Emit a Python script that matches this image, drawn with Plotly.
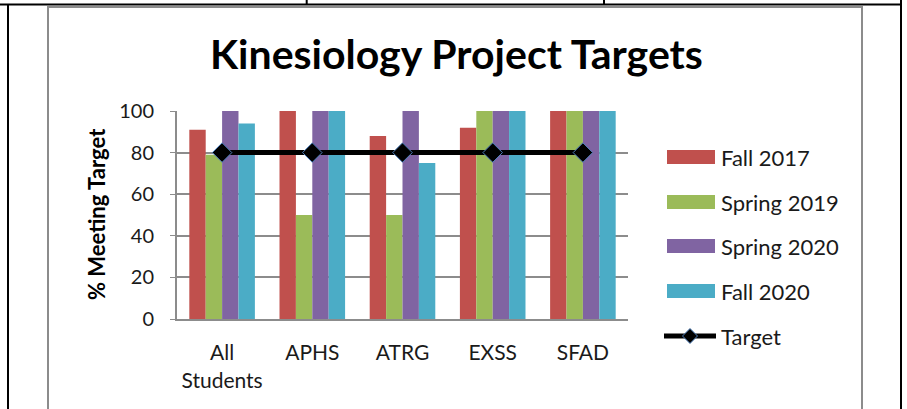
import plotly.graph_objects as go

categories = ['All<br>Students', 'APHS', 'ATRG', 'EXSS', 'SFAD']
series_names = ['Fall 2017', 'Spring 2019', 'Spring 2020', 'Fall 2020']
fall_2017 = [91, 100, 88, 92, 100]
spring_2019 = [79, 50, 50, 100, 100]
spring_2020 = [100, 100, 100, 100, 100]
fall_2020 = [94, 100, 75, 100, 100]
target = [80, 80, 80, 80, 80]

W, H = 907, 409
L, R, T, B = 177, 279, 111, 90
PW, PH = W - L - R, H - T - B


def px(x):
    return (x - L) / PW


def py(y):
    return (H - B - y) / PH


FONT = 'Lato'
TXT = '#1a1a1a'
colors = ['#C0504D', '#9BBB59', '#8064A2', '#4BACC6']

fig = go.Figure()
for name, vals, col in zip(series_names, [fall_2017, spring_2019, spring_2020, fall_2020], colors):
    fig.add_trace(go.Bar(
        x=categories, y=vals, name=name,
        marker=dict(color=col, line=dict(width=0)),
    ))

fig.add_trace(go.Scatter(
    x=categories, y=target, name='Target',
    mode='lines+markers',
    line=dict(color='black', width=5),
    marker=dict(symbol='diamond', size=15, color='black',
                line=dict(color='#4F81BD', width=1)),
))

# table borders (black) and chart frame (gray)
blk = dict(color='black', width=2)
fig.add_shape(type='line', xref='paper', yref='paper',
              x0=px(0), x1=px(902), y0=py(4.5), y1=py(4.5), line=blk)
fig.add_shape(type='line', xref='paper', yref='paper',
              x0=px(8), x1=px(8), y0=py(4.5), y1=py(420), line=blk)
fig.add_shape(type='line', xref='paper', yref='paper',
              x0=px(901), x1=px(901), y0=py(-5), y1=py(420), line=blk)
for xx in (306.7, 604):
    fig.add_shape(type='line', xref='paper', yref='paper',
                  x0=px(xx), x1=px(xx), y0=py(-5), y1=py(4.5), line=blk)
fig.add_shape(type='rect', xref='paper', yref='paper',
              x0=px(48), x1=px(862), y0=py(430), y1=py(7),
              line=dict(color='#8C8C8C', width=2))

# legend drawn beside the plot, Excel style
leg_y = [157, 202, 246, 291, 336]
for i, name in enumerate(series_names + ['Target']):
    yc = leg_y[i]
    if name == 'Target':
        fig.add_shape(type='line', xref='paper', yref='paper',
                      x0=px(664), x1=px(716), y0=py(yc), y1=py(yc),
                      line=dict(color='black', width=5))
        d = 7.5
        fig.add_shape(type='path', xref='paper', yref='paper',
                      path=(f'M {px(690)},{py(yc - d)} L {px(690 + d)},{py(yc)} '
                            f'L {px(690)},{py(yc + d)} L {px(690 - d)},{py(yc)} Z'),
                      fillcolor='black', line=dict(color='#4F81BD', width=1))
    else:
        fig.add_shape(type='rect', xref='paper', yref='paper',
                      x0=px(667), x1=px(715), y0=py(yc + 7), y1=py(yc - 7),
                      fillcolor=colors[i], line=dict(width=0))
    fig.add_annotation(text=name, xref='paper', yref='paper',
                       x=px(719), y=py(yc), xanchor='left', yanchor='middle',
                       showarrow=False, font=dict(family=FONT, size=22, color=TXT))

fig.add_annotation(
    text='<b>Kinesiology Project Targets</b>', xref='paper', yref='paper',
    x=px(456), y=py(53), xanchor='center', yanchor='middle', showarrow=False,
    font=dict(family=FONT, size=41, color='black'),
)
fig.add_annotation(
    text='<b>% Meeting Target</b>', xref='paper', yref='paper',
    x=px(96), y=py(214), xanchor='center', yanchor='middle',
    showarrow=False, textangle=-90,
    font=dict(family=FONT, size=22, color='black'),
)

fig.update_layout(
    width=W, height=H,
    margin=dict(l=L, r=R, t=T, b=B),
    paper_bgcolor='white', plot_bgcolor='white',
    barmode='group', bargap=0.273, bargroupgap=0,
    font=dict(family=FONT, size=21, color=TXT),
    showlegend=False,
)
fig.update_xaxes(
    showline=True, linecolor='#8C8C8C', linewidth=2,
    showgrid=False, ticks='', tickfont=dict(size=21),
    ticklabelstandoff=14,
)
fig.update_yaxes(
    range=[0, 100], dtick=20, showgrid=True, gridcolor='#8C8C8C', gridwidth=2,
    showline=True, linecolor='#8C8C8C', linewidth=2,
    ticks='outside', ticklen=5, tickcolor='#8C8C8C',
    tickfont=dict(size=20), zeroline=False, ticklabelstandoff=12,
)

fig.write_html('out.html', config={'displayModeBar': False},
               post_script="document.body.style.margin='0';")
